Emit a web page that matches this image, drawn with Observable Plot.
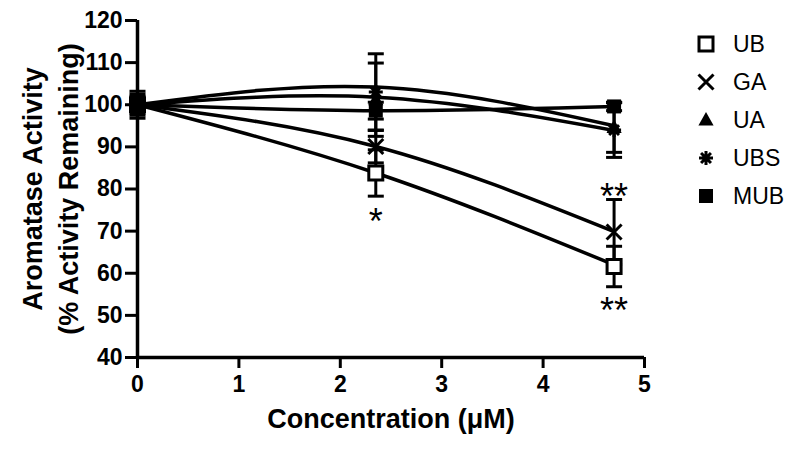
<!DOCTYPE html>
<html><head><meta charset="utf-8">
<script src="https://cdn.jsdelivr.net/npm/d3@7"></script>
<script src="https://cdn.jsdelivr.net/npm/@observablehq/plot@0.6"></script>
<style>
body{margin:0;background:#fff;font-family:"Liberation Sans",Arial,sans-serif;}
#wrap{position:relative;width:800px;height:452px;overflow:hidden;}
#legend{position:absolute;left:690px;top:25px;}
.row{display:flex;align-items:center;height:38px;font-size:23px;color:#000;}
.row svg{width:32px;height:24px;margin-right:11px;}
</style></head><body><div id="wrap"><div id="legend"></div></div>
<script>
// ---- data ----
const conc = [0, 2.35, 4.7];
const seriesNames = ["UB", "GA", "UA", "UBS", "MUB"];
const ubMean  = [100, 83.8, 61.6];
const gaMean  = [100, 90.1, 69.8];
const uaMean  = [100, 101.2, 94.6];
const ubsMean = [100, 103.0, 94.0];
const mubMean = [100, 98.6, 99.6];
const ubErr  = [1.5, 5.5, 4.8];
const gaErr  = [2.0, 3.9, 7.7];
const uaErr  = [2.5, 8.7, 5.9];
const ubsErr = [3.2, 9.1, 6.5];
const mubErr = [1.0, 2.0, 1.0];
// fitted curves (values read at each concentration)
const ubFit  = [100, 83.8, 62.0];
const gaFit  = [100, 90.1, 69.9];
const uaFit  = [100, 101.8, 93.9];
const ubsFit = [100, 104.2, 95.0];
const mubFit = [100, 98.6, 99.6];
// significance marks
const sigText = ["*", "**", "**"];
const sigX = [2.35, 4.7, 4.7];
const sigY = [72.0, 78.0, 51.0];
const xTicks = [0, 1, 2, 3, 4, 5];
const yTicks = [40, 50, 60, 70, 80, 90, 100, 110, 120];

const means = [ubMean, gaMean, uaMean, ubsMean, mubMean];
const errs = [ubErr, gaErr, uaErr, ubsErr, mubErr];
const fits = [ubFit, gaFit, uaFit, ubsFit, mubFit];

const points = [], fitRows = [];
seriesNames.forEach((s, i) => conc.forEach((c, j) => {
  points.push({series: s, x: c, y: means[i][j], lo: means[i][j] - errs[i][j], hi: means[i][j] + errs[i][j]});
  fitRows.push({series: s, x: c, y: fits[i][j]});
}));
const sig = sigText.map((t, i) => ({t, x: sigX[i], y: sigY[i]}));

// ---- custom symbols ----
const rad = (size) => Math.sqrt(size / Math.PI);
const squareSym = {draw(ctx, size){ const r = rad(size); ctx.rect(-r, -r, 2*r, 2*r); }};
const timesSym = {draw(ctx, size){ const r = rad(size); ctx.moveTo(-r,-r); ctx.lineTo(r,r); ctx.moveTo(r,-r); ctx.lineTo(-r,r); }};
const triSym = {draw(ctx, size){ const r = rad(size); ctx.moveTo(0,-r); ctx.lineTo(r*0.95, r*0.7); ctx.lineTo(-r*0.95, r*0.7); ctx.closePath(); }};
const astSym = {draw(ctx, size){ const r = rad(size); for (let k = 0; k < 4; k++){ const a = k*Math.PI/4; ctx.moveTo(r*Math.cos(a), r*Math.sin(a)); ctx.lineTo(-r*Math.cos(a), -r*Math.sin(a)); } }};
const capSym = {draw(ctx, size){ const r = rad(size); ctx.moveTo(-r, 0); ctx.lineTo(r, 0); }};

const styles = {
  UB:  {symbol: squareSym, fill: "white", stroke: "black", strokeWidth: 3, r: 7},
  GA:  {symbol: timesSym, fill: "none", stroke: "black", strokeWidth: 3, r: 7.5},
  UA:  {symbol: triSym, fill: "black", stroke: "none", strokeWidth: 0, r: 8},
  UBS: {symbol: astSym, fill: "none", stroke: "black", strokeWidth: 3, r: 7},
  MUB: {symbol: squareSym, fill: "black", stroke: "none", strokeWidth: 0, r: 7}
};

const dotMarks = seriesNames.map(s => Plot.dot(points.filter(d => d.series === s), {
  x: "x", y: "y", ...styles[s]
}));

const chart = Plot.plot({
  width: 800, height: 452,
  marginLeft: 137, marginRight: 156, marginTop: 20, marginBottom: 95,
  style: {fontFamily: "'Liberation Sans', Arial, sans-serif", fontSize: "23px", fontWeight: "bold", color: "black", background: "white"},
  x: {domain: [0, 5], ticks: xTicks, label: null},
  y: {domain: [40, 120], ticks: yTicks, label: null},
  marks: [
    Plot.axisX({ticks: xTicks, tickFormat: d3.format("d"), tickSize: 11, tickPadding: 7, strokeWidth: 3, fontSize: 23, label: null}),
    Plot.axisY({ticks: yTicks, tickFormat: d3.format("d"), tickSize: 12, tickPadding: 3, strokeWidth: 3, fontSize: 23, label: null}),
    Plot.ruleX([0], {strokeWidth: 3.5}),
    Plot.ruleY([40], {strokeWidth: 3.5}),
    Plot.line(fitRows, {x: "x", y: "y", z: "series", curve: "natural", stroke: "black", strokeWidth: 3.5}),
    Plot.ruleX(points, {x: "x", y1: "lo", y2: "hi", stroke: "black", strokeWidth: 3}),
    Plot.dot(points, {x: "x", y: "lo", symbol: capSym, r: 8, stroke: "black", strokeWidth: 3}),
    Plot.dot(points, {x: "x", y: "hi", symbol: capSym, r: 8, stroke: "black", strokeWidth: 3}),
    ...dotMarks,
    Plot.text(sig, {x: "x", y: "y", text: "t", fontSize: 36, fontWeight: "normal", lineAnchor: "middle", textAnchor: "middle"}),
    Plot.text(["Concentration (\u03bcM)"], {frameAnchor: "bottom", dy: 62, fontSize: 27, lineAnchor: "middle"}),
    Plot.text(["Aromatase Activity"], {frameAnchor: "left", dx: -104, rotate: -90, fontSize: 27, lineAnchor: "middle", textAnchor: "middle"}),
    Plot.text(["(% Activity Remaining)"], {frameAnchor: "left", dx: -68, rotate: -90, fontSize: 27, lineAnchor: "middle", textAnchor: "middle"})
  ]
});
document.getElementById("wrap").prepend(chart);

// ---- legend ----
const legend = d3.select("#legend");
seriesNames.forEach(s => {
  const st = styles[s];
  const row = legend.append("div").attr("class", "row");
  const svg = row.append("svg").attr("viewBox", "-16 -12 32 24");
  svg.append("path")
    .attr("d", d3.symbol(st.symbol, Math.PI * st.r * st.r)())
    .attr("fill", st.fill).attr("stroke", st.stroke).attr("stroke-width", st.strokeWidth);
  row.append("span").text(s);
});
</script>
</body></html>
